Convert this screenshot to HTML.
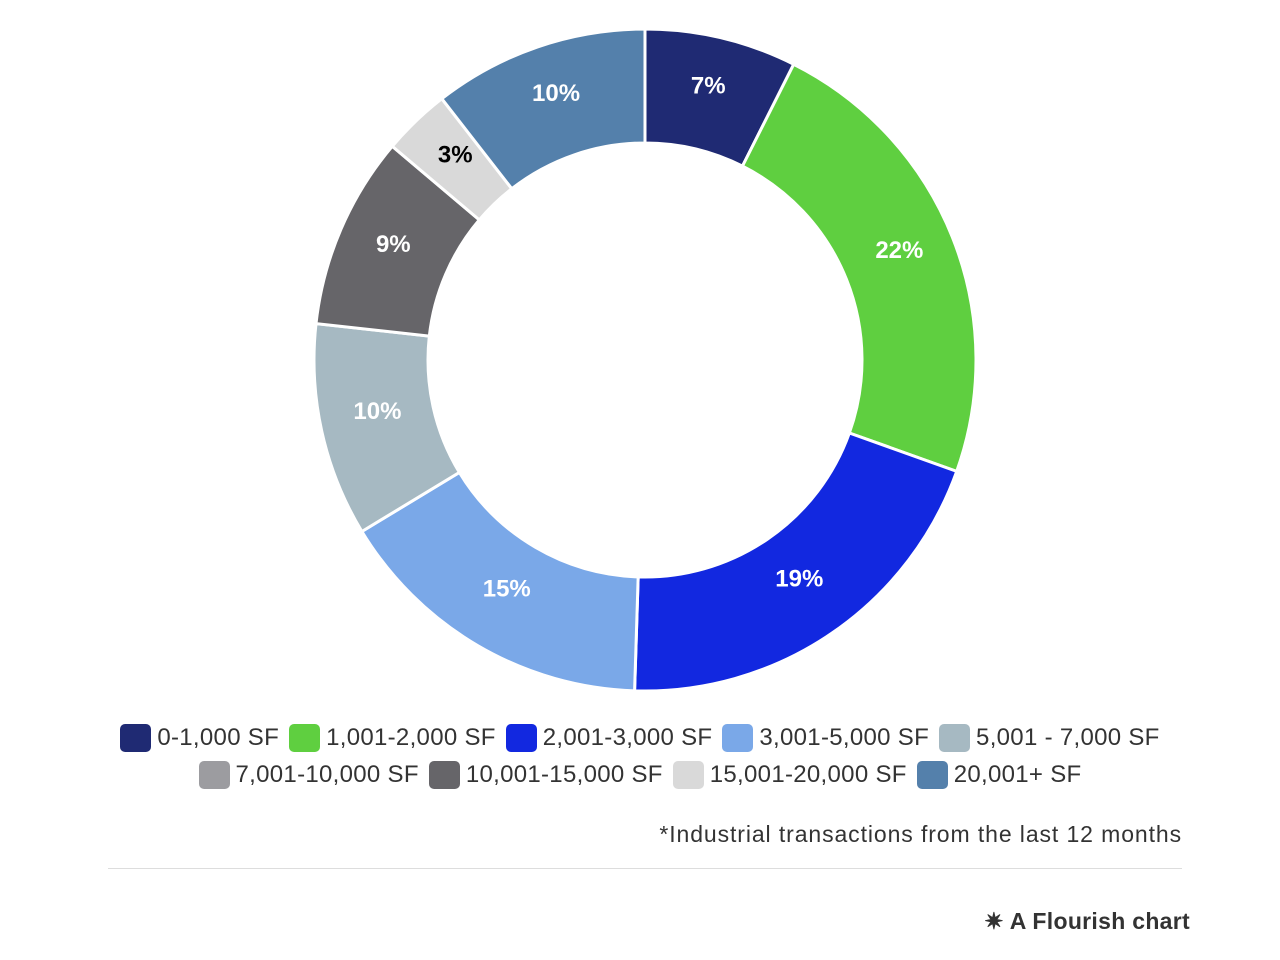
<!DOCTYPE html>
<html><head><meta charset="utf-8"><style>
body{margin:0;width:1280px;height:960px;background:#fff;font-family:"Liberation Sans",sans-serif;overflow:hidden;position:relative}
.legend{position:absolute;left:0;width:1280px;text-align:center;font-size:24px;color:#333;letter-spacing:0.3px}
.row{display:flex;justify-content:center;gap:10px;height:37px;align-items:center}
.item{display:flex;align-items:center;gap:6px}
.sw{width:31px;height:28px;border-radius:5px;display:inline-block}
</style></head><body>
<svg id="chart" width="1280" height="700" style="position:absolute;left:0;top:0"></svg>
<div class="legend" style="top:719px">
 <div class="row" id="row1"></div><div class="row" id="row2"></div>
</div>
<div style="position:absolute;right:98px;top:821px;font-size:23px;color:#333;letter-spacing:0.9px">*Industrial transactions from the last 12 months</div>
<div style="position:absolute;left:108px;width:1074px;top:868px;height:1px;background:#ddd"></div>
<div style="position:absolute;right:90px;top:908px;font-size:23px;font-weight:bold;color:#333;letter-spacing:0.3px">✷ A Flourish chart</div>
<script>
const categories=["0-1,000 SF","1,001-2,000 SF","2,001-3,000 SF","3,001-5,000 SF","5,001 - 7,000 SF","7,001-10,000 SF","10,001-15,000 SF","15,001-20,000 SF","20,001+ SF"];
const values=[7.4,23.0,20.0,15.8,10.4,0,9.4,3.3,10.5];
const valueLabels=["7%","22%","19%","15%","10%","","9%","3%","10%"];
const colors=["#1f2a73","#5fcf40","#1228e0","#7aa8e8","#a6b9c2","#9c9ca0","#666569","#d9d9d9","#5480ab"];
const labelColors=["#fff","#fff","#fff","#fff","#fff","#fff","#fff","#000","#fff"];
const cx=645,cy=360,R=331,r=217,NS="http://www.w3.org/2000/svg";
const svg=document.getElementById('chart');
const total=values.reduce((a,b)=>a+b,0);
function pt(a,rad){return [cx+rad*Math.sin(a),cy-rad*Math.cos(a)];}
let acc=0;
values.forEach((v,i)=>{
 const a0=acc/total*2*Math.PI; acc+=v; const a1=acc/total*2*Math.PI;
 if(v<=0)return;
 const big=(a1-a0)>Math.PI?1:0;
 const [x0,y0]=pt(a0,R),[x1,y1]=pt(a1,R),[x2,y2]=pt(a1,r),[x3,y3]=pt(a0,r);
 const p=document.createElementNS(NS,'path');
 p.setAttribute('d',`M${x0},${y0}A${R},${R} 0 ${big} 1 ${x1},${y1}L${x2},${y2}A${r},${r} 0 ${big} 0 ${x3},${y3}Z`);
 p.setAttribute('fill',colors[i]);p.setAttribute('stroke','#fff');p.setAttribute('stroke-width','3');
 
 
 svg.appendChild(p);
 const [lx,ly]=pt((a0+a1)/2,(R+r)/2);
 const t=document.createElementNS(NS,'text');
 t.setAttribute('x',lx);t.setAttribute('y',ly);t.setAttribute('text-anchor','middle');
 t.setAttribute('font-size','24');t.setAttribute('font-weight','bold');t.setAttribute('fill',labelColors[i]);
 t.setAttribute('font-family','Liberation Sans, sans-serif');
 t.textContent=valueLabels[i];
 
 
 svg.appendChild(t);
});
categories.forEach((c,i)=>{
 const it=document.createElement('div');it.className='item';
 
 
 it.innerHTML=`<span class="sw" style="background:${colors[i]}"></span><span>${c}</span>`;
 document.getElementById(i<5?'row1':'row2').appendChild(it);
});
</script>
</body></html>
